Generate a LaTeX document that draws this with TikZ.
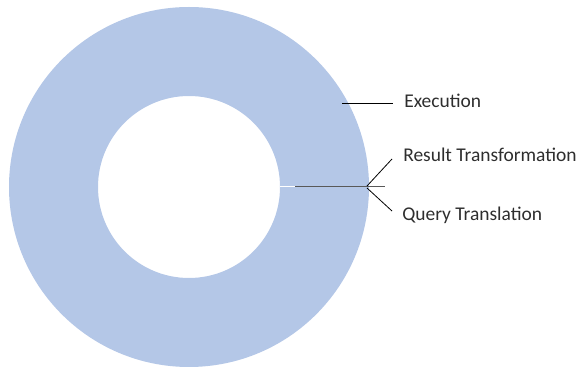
\documentclass[tikz,border=0pt]{standalone}
\usepackage{fontspec}
\setmainfont{Carlito}
\definecolor{ringblue}{RGB}{180,199,231}
\definecolor{leadergray}{RGB}{89,89,89}
\begin{document}
\begin{tikzpicture}[x=0.75pt,y=-0.75pt,
  lbl/.style={anchor=west,inner sep=0pt,font=\fontsize{14.6}{17}\selectfont,text=black!82},
  leader/.style={draw=black,line width=0.6pt}]
\useasboundingbox (0,0) rectangle (579,370);
% doughnut ring
\coordinate (c) at (189,187);
\fill[ringblue,even odd rule] (c) circle (180) (c) circle (91);
% boundary of the thin slices at angle 0
\draw[white,line width=1.2pt] (280,186.6) -- (295,186.6);
\draw[leadergray,line width=1.2pt] (295,186.6) -- (385,186.6);
% labels
\node[lbl] (exe) at (404,101) {Execution};
\node[lbl] (res) at (403,155) {Result Transformation};
\node[lbl] (qry) at (402,215) {Query Translation};
% leader lines
\coordinate (pe) at (342,103);
\coordinate (ee) at (393,103);
\coordinate (pr) at (367,186);
\coordinate (er) at (392,159);
\coordinate (pq) at (367,188);
\coordinate (eq) at (392,211);
\draw[leader] (pe) -- (ee);
\draw[leader] (pr) -- (er);
\draw[leader] (pq) -- (eq);
\end{tikzpicture}
\end{document}
